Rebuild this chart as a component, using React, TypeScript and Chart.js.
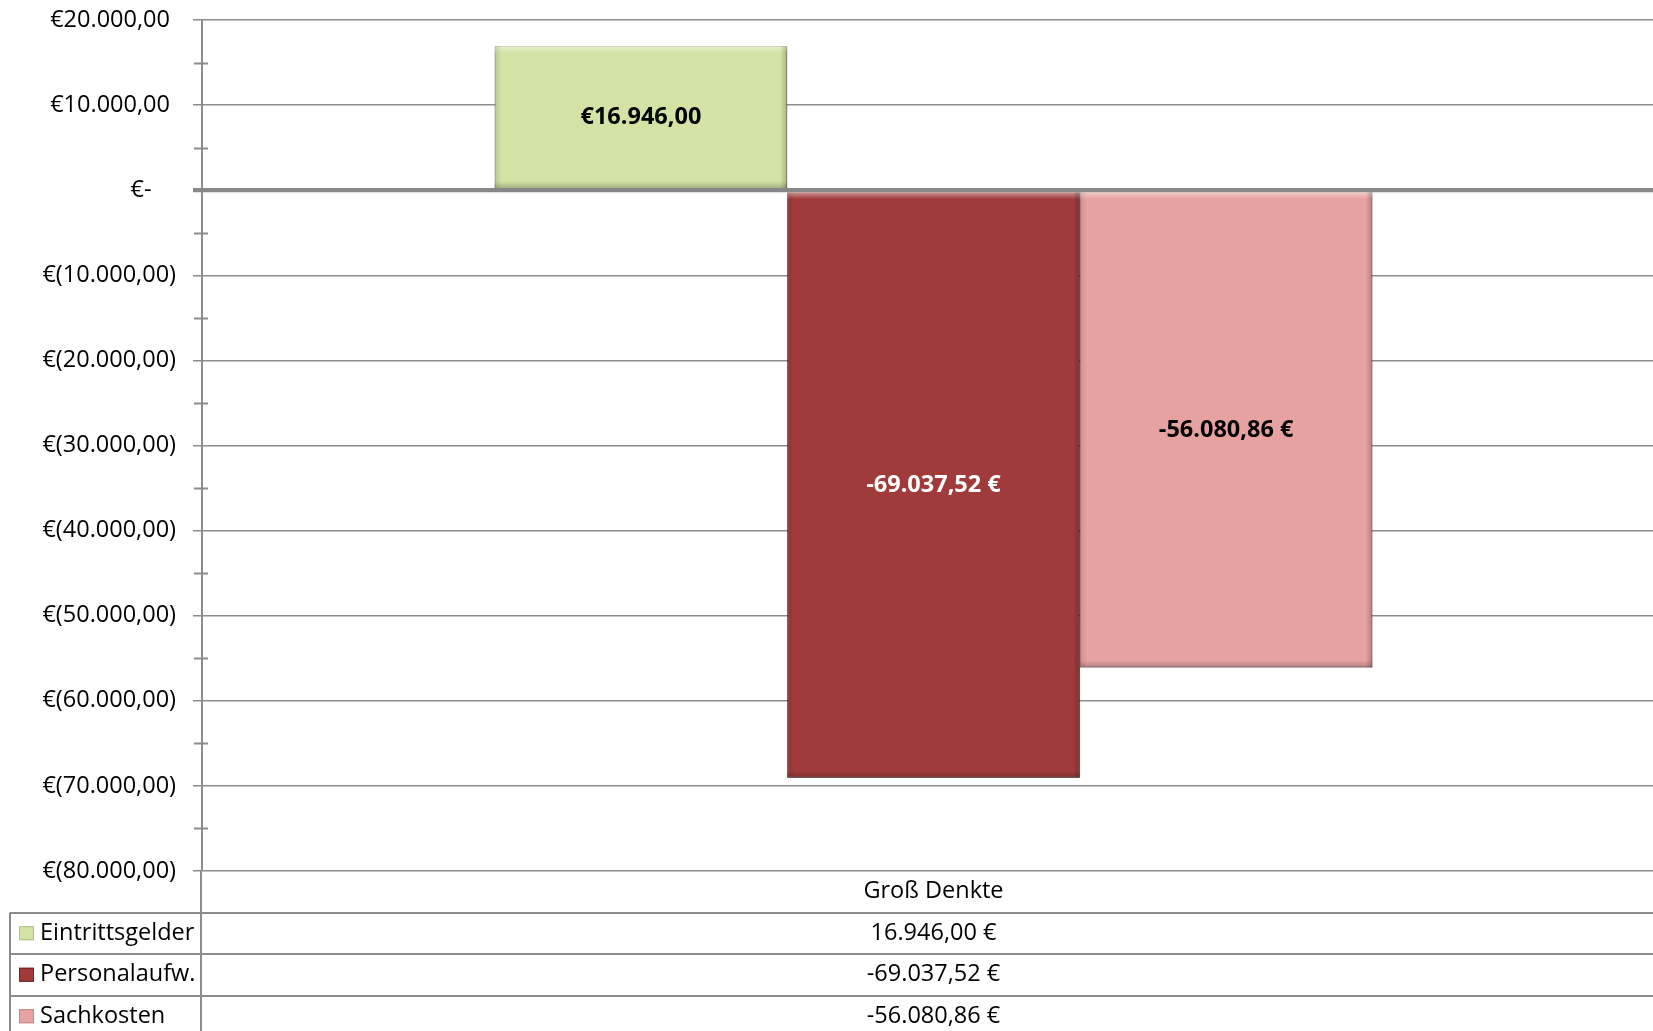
import React, { useEffect, useRef } from 'react';
import { Chart, registerables } from 'chart.js';

Chart.register(...registerables);

// ---- data ----
const categories = ['Groß Denkte'];
const seriesNames = ['Eintrittsgelder', 'Personalaufw.', 'Sachkosten'];
const eintrittsgelder = [16946.0];
const personalaufw = [-69037.52];
const sachkosten = [-56080.86];
const labelEuroFirst = [true, false, false];

const yMin = -80000;
const yMax = 20000;
const yStep = 10000;

// ---- styles ----
const seriesColors = ['#D3E3A6', '#A13B3B', '#E6A2A1'];
const borderColors = ['#AFC287', '#6B2323', '#C48584'];
const labelColors = ['#000000', '#FFFFFF', '#000000'];
const GRID = '#8c8c8c';
const FONT = '"Open Sans", Lato, sans-serif';
const FSIZE = 23.5;
const W = 1665;
const H = 1031;

function groupDigits(n: number): string {
  const fixed = Math.abs(n).toFixed(2);
  const [i, d] = fixed.split('.');
  return i.replace(/\B(?=(\d{3})+(?!\d))/g, '.') + ',' + d;
}
function axisLabel(v: number): string {
  if (v === 0) return '€-    ';
  if (v < 0) return '€(' + groupDigits(v) + ')';
  return '€' + groupDigits(v) + ' ';
}
function euroSuffix(v: number): string {
  return (v < 0 ? '-' : '') + groupDigits(v) + ' €';
}
function euroPrefix(v: number): string {
  return (v < 0 ? '-' : '') + '€' + groupDigits(v);
}

const shadowPlugin = {
  id: 'barShadow',
  beforeDatasetDraw(chart: any) {
    const ctx = chart.ctx;
    ctx.save();
    ctx.shadowColor = 'rgba(0,0,0,0.4)';
    ctx.shadowBlur = 6;
    ctx.shadowOffsetX = 1;
    ctx.shadowOffsetY = 3;
  },
  afterDatasetDraw(chart: any) {
    chart.ctx.restore();
  },
};

function bevel(ctx: CanvasRenderingContext2D, l: number, t: number, r: number, b: number) {
  const s = 7;
  let g = ctx.createLinearGradient(0, t, 0, t + s);
  g.addColorStop(0, 'rgba(255,255,255,0.45)');
  g.addColorStop(1, 'rgba(255,255,255,0)');
  ctx.fillStyle = g;
  ctx.fillRect(l, t, r - l, s);
  g = ctx.createLinearGradient(0, b, 0, b - s);
  g.addColorStop(0, 'rgba(0,0,0,0.22)');
  g.addColorStop(1, 'rgba(0,0,0,0)');
  ctx.fillStyle = g;
  ctx.fillRect(l, b - s, r - l, s);
  g = ctx.createLinearGradient(l, 0, l + s, 0);
  g.addColorStop(0, 'rgba(0,0,0,0.12)');
  g.addColorStop(1, 'rgba(0,0,0,0)');
  ctx.fillStyle = g;
  ctx.fillRect(l, t, s, b - t);
  g = ctx.createLinearGradient(r, 0, r - s, 0);
  g.addColorStop(0, 'rgba(0,0,0,0.22)');
  g.addColorStop(1, 'rgba(0,0,0,0)');
  ctx.fillStyle = g;
  ctx.fillRect(r - s, t, s, b - t);
}

const overlayPlugin = {
  id: 'overlay',
  afterDatasetsDraw(chart: any) {
    const ctx = chart.ctx;
    const y = chart.scales.y;
    const area = chart.chartArea;
    ctx.save();
    // bevel
    chart.data.datasets.forEach((_ds: any, di: number) => {
      const meta = chart.getDatasetMeta(di);
      meta.data.forEach((el: any) => {
        const l = el.x - el.width / 2;
        const r = el.x + el.width / 2;
        const t = Math.min(el.y, el.base);
        const b = Math.max(el.y, el.base);
        bevel(ctx, l, t, r, b);
      });
    });
    // zero line on top
    const y0 = y.getPixelForValue(0);
    ctx.strokeStyle = '#878787';
    ctx.lineWidth = 4;
    ctx.beginPath();
    ctx.moveTo(area.left - 9, y0);
    ctx.lineTo(area.right, y0);
    ctx.stroke();
    // minor ticks
    ctx.strokeStyle = GRID;
    ctx.lineWidth = 2;
    for (let v = yMin + yStep / 2; v < yMax; v += yStep) {
      const py = Math.round(y.getPixelForValue(v)) + 0.5;
      ctx.beginPath();
      ctx.moveTo(area.left - 8, py);
      ctx.lineTo(area.left + 6, py);
      ctx.stroke();
    }
    // data labels
    ctx.font = 'bold ' + FSIZE + 'px ' + FONT;
    ctx.textAlign = 'center';
    ctx.textBaseline = 'middle';
    chart.data.datasets.forEach((ds: any, di: number) => {
      const meta = chart.getDatasetMeta(di);
      meta.data.forEach((el: any, i: number) => {
        const v = ds.data[i];
        const txt = labelEuroFirst[di] ? euroPrefix(v) : euroSuffix(v);
        ctx.fillStyle = labelColors[di];
        ctx.fillText(txt, el.x, (el.y + el.base) / 2);
      });
    });
    ctx.restore();
  },
};

const tablePlugin = {
  id: 'dataTable',
  afterDraw(chart: any) {
    const ctx = chart.ctx;
    const area = chart.chartArea;
    const x = chart.scales.x;
    const rowH = 41.5;
    const cx = x.getPixelForValue(0);
    ctx.save();
    ctx.fillStyle = '#000';
    ctx.font = FSIZE + 'px ' + FONT;
    ctx.textBaseline = 'middle';
    ctx.textAlign = 'center';
    ctx.fillText(categories[0], cx, area.bottom + rowH / 2);
    const tableTop = area.bottom + rowH;
    // lines
    ctx.strokeStyle = GRID;
    ctx.lineWidth = 2;
    for (let r = 0; r <= seriesNames.length; r++) {
      const ly = Math.round(tableTop + r * rowH);
      ctx.beginPath();
      ctx.moveTo(10, ly);
      ctx.lineTo(W, ly);
      ctx.stroke();
    }
    ctx.beginPath();
    ctx.moveTo(10, tableTop);
    ctx.lineTo(10, H);
    ctx.stroke();
    ctx.beginPath();
    ctx.moveTo(area.left - 1, area.bottom);
    ctx.lineTo(area.left - 1, H);
    ctx.stroke();
    // rows
    const values = [eintrittsgelder, personalaufw, sachkosten];
    seriesNames.forEach((name, r) => {
      const cy = tableTop + r * rowH + rowH / 2;
      ctx.fillStyle = seriesColors[r];
      ctx.fillRect(19, cy - 7, 15, 14);
      ctx.strokeStyle = borderColors[r];
      ctx.lineWidth = 1;
      ctx.strokeRect(19.5, cy - 6.5, 14, 13);
      ctx.fillStyle = '#000';
      ctx.textAlign = 'left';
      ctx.fillText(name, 40, cy);
      ctx.textAlign = 'center';
      ctx.fillText(euroSuffix(values[r][0]), cx, cy);
    });
    ctx.restore();
  },
};

export default function App() {
  const ref = useRef<HTMLCanvasElement | null>(null);
  useEffect(() => {
    if (!ref.current) return;
    const chart = new Chart(ref.current, {
      type: 'bar',
      data: {
        labels: categories,
        datasets: [
          { label: seriesNames[0], data: eintrittsgelder, backgroundColor: seriesColors[0], borderColor: borderColors[0], borderWidth: 1 },
          { label: seriesNames[1], data: personalaufw, backgroundColor: seriesColors[1], borderColor: borderColors[1], borderWidth: 1 },
          { label: seriesNames[2], data: sachkosten, backgroundColor: seriesColors[2], borderColor: borderColors[2], borderWidth: 1 },
        ],
      },
      options: {
        animation: false,
        responsive: false,
        maintainAspectRatio: false,
        layout: { padding: { top: 20, right: 0, bottom: H - 871, left: 0 } },
        plugins: { legend: { display: false }, tooltip: { enabled: false } },
        datasets: { bar: { categoryPercentage: 0.6, barPercentage: 1 } },
        scales: {
          x: { display: false },
          y: {
            min: yMin,
            max: yMax,
            ticks: {
              stepSize: yStep,
              callback: (v: any) => axisLabel(Number(v)),
              font: { family: FONT, size: FSIZE },
              color: '#000',
              padding: 17,
            },
            grid: {
              color: GRID,
              lineWidth: (c: any) => (c.tick && c.tick.value === 0 ? 4 : 1.5),
              tickLength: 9,
            },
            border: { display: true, color: GRID, width: 2 },
            afterFit: (s: any) => {
              s.width = 202;
              s.paddingTop = 0;
              s.paddingBottom = 0;
            },
          },
        },
      },
      plugins: [shadowPlugin, overlayPlugin, tablePlugin],
    } as any);
    return () => chart.destroy();
  }, []);
  return (
    <div style={{ position: 'absolute', left: 0, top: 0, width: 1653, height: H, overflow: 'hidden', background: '#fff' }}>
      <canvas ref={ref} width={W} height={H} style={{ display: 'block' }} />
    </div>
  );
}
